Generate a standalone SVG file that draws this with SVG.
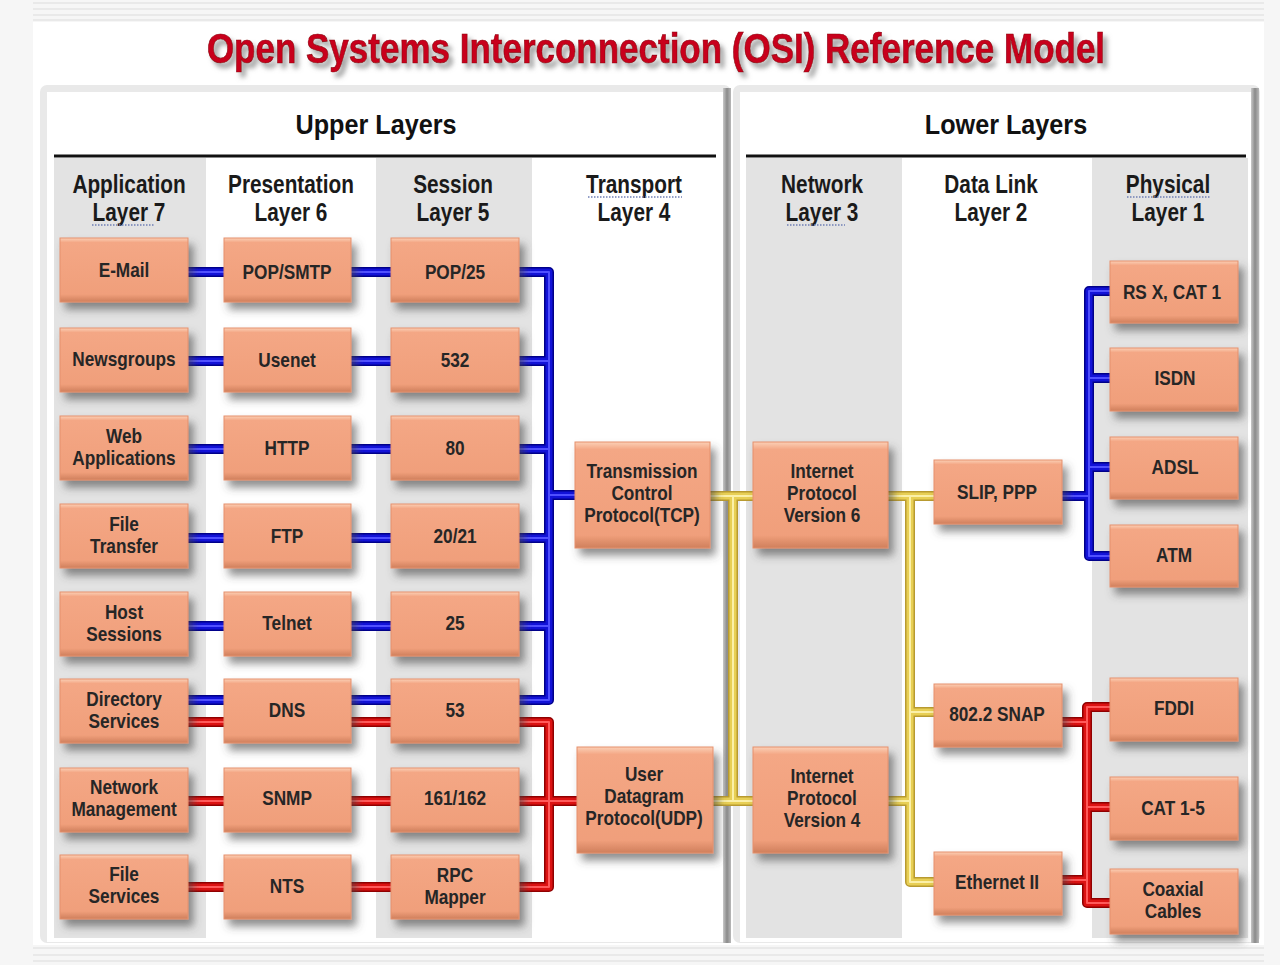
<svg xmlns="http://www.w3.org/2000/svg" width="1280" height="965" viewBox="0 0 1280 965">
<style>
.hdr{font-family:"Liberation Sans",Arial,sans-serif;font-weight:bold;font-size:26px;fill:#1a1a1a;text-anchor:middle;transform-box:fill-box;transform-origin:center;transform:scaleX(0.8)}
.grp{font-family:"Liberation Sans",Arial,sans-serif;font-weight:bold;font-size:28px;fill:#111;text-anchor:middle;transform-box:fill-box;transform-origin:center;transform:scaleX(0.9)}
.bt{font-family:"Liberation Sans",Arial,sans-serif;font-weight:bold;font-size:21px;fill:#262626;text-anchor:middle;transform-box:fill-box;transform-origin:center;transform:scaleX(0.82)}
.ttl{font-family:"Liberation Sans",Arial,sans-serif;font-weight:bold;font-size:43px;fill:#c8001a;text-anchor:middle;stroke:#8a0010;stroke-width:0.7;transform-box:fill-box;transform-origin:center;transform:scaleX(0.814)}
.box{fill:url(#boxg);stroke:#e5906c;stroke-width:1;filter:url(#sh)}
.col{fill:#e3e3e3}
.dot{stroke:#6f7fb5;stroke-width:1.5;stroke-dasharray:1.5 1.5;fill:none}
.faint{stroke:#e4e4e4;stroke-width:1.5}
.c1{fill:none;stroke-width:10;stroke-linejoin:round}
.c2{fill:none;stroke-width:7;stroke-linejoin:round}
.c3{fill:none;stroke-width:2;stroke-linejoin:round}
</style>
<defs>
<linearGradient id="boxg" x1="0" y1="0" x2="0" y2="1">
<stop offset="0" stop-color="#fbd0b6"/>
<stop offset="0.07" stop-color="#f4a785"/>
<stop offset="0.88" stop-color="#f09f7b"/>
<stop offset="1" stop-color="#cf7f5c"/>
</linearGradient>
<linearGradient id="edge" x1="0" y1="0" x2="1" y2="0">
<stop offset="0" stop-color="#c8c8c8"/>
<stop offset="0.5" stop-color="#8a8a8a"/>
<stop offset="1" stop-color="#b8b8b8"/>
</linearGradient>
<filter id="sh" x="-20%" y="-20%" width="150%" height="160%">
<feDropShadow dx="5" dy="7" stdDeviation="4" flood-color="#444" flood-opacity="0.6"/>
</filter>
<filter id="tsh" x="-5%" y="-30%" width="110%" height="170%">
<feDropShadow dx="4" dy="5" stdDeviation="2.5" flood-color="#777" flood-opacity="0.7"/>
</filter>
<path id="blueP" d="M188,272H224M351,272H391M188,361H224M351,361H391M188,449H224M351,449H391M188,538H224M351,538H391M188,626H224M351,626H391M188,700H224M351,700H391M519,272H549V700H519M519,361H549M519,449H549M519,538H549M519,626H549M549,495H575M1062,496H1089M1110,291H1089V556H1110M1089,378H1110M1089,467H1110"/>
<path id="redP" d="M188,722H224M351,722H391M188,801H224M351,801H391M188,887H224M351,887H391M519,722H549V887H519M519,801H577M1062,722H1087M1062,880H1087M1110,707H1087V903H1110M1087,807H1110"/>
<path id="yelP" d="M710,496H754M733,496V801M713,801H754M888,496H934M910,496V882H934M910,712H934M888,801H910"/>
</defs>

<!-- page background -->
<rect x="0" y="0" width="1280" height="965" fill="#f6f6f6"/>
<rect x="33" y="22" width="1231" height="923" fill="#ffffff"/>
<g id="faint-lines">
<line class="faint" x1="33" y1="3" x2="1264" y2="3"/>
<line class="faint" x1="33" y1="9" x2="1264" y2="9"/>
<line class="faint" x1="33" y1="15" x2="1264" y2="15"/>
<line class="faint" x1="33" y1="20" x2="1264" y2="20"/>
<line class="faint" x1="33" y1="948" x2="1264" y2="948"/>
<line class="faint" x1="33" y1="955" x2="1264" y2="955"/>
<line class="faint" x1="33" y1="961" x2="1264" y2="961"/>
</g>

<!-- title -->
<g filter="url(#tsh)"><text id="title" class="ttl" x="656" y="63">Open Systems Interconnection (OSI) Reference Model</text></g>

<!-- panels -->
<g id="upper-panel">
<rect x="40" y="85" width="691" height="858" rx="7" fill="#e9e9e9"/>
<rect x="47" y="92" width="676" height="850" fill="#ffffff"/>
<rect x="723" y="88" width="8" height="855" fill="url(#edge)"/>
<text class="grp" x="376" y="134">Upper Layers</text>
<line x1="54" y1="156" x2="716" y2="156" stroke="#111" stroke-width="3"/>
<rect class="col" x="54" y="158" width="152" height="780"/>
<rect class="col" x="376" y="158" width="156" height="780"/>
</g>
<g id="lower-panel">
<rect x="733" y="85" width="527" height="858" rx="7" fill="#e9e9e9"/>
<rect x="740" y="92" width="511" height="850" fill="#ffffff"/>
<rect x="1251" y="88" width="8" height="855" fill="url(#edge)"/>
<text class="grp" x="1006" y="134">Lower Layers</text>
<line x1="746" y1="156" x2="1246" y2="156" stroke="#111" stroke-width="3"/>
<rect class="col" x="746" y="158" width="156" height="780"/>
<rect class="col" x="1092" y="158" width="156" height="780"/>
</g>

<!-- column headers -->
<g id="headers">
<text class="hdr" x="129" y="193">Application</text><text class="hdr" x="129" y="221">Layer 7</text>
<text class="hdr" x="291" y="193">Presentation</text><text class="hdr" x="291" y="221">Layer 6</text>
<text class="hdr" x="453" y="193">Session</text><text class="hdr" x="453" y="221">Layer 5</text>
<text class="hdr" x="634" y="193">Transport</text><text class="hdr" x="634" y="221">Layer 4</text>
<text class="hdr" x="822" y="193">Network</text><text class="hdr" x="822" y="221">Layer 3</text>
<text class="hdr" x="991" y="193">Data Link</text><text class="hdr" x="991" y="221">Layer 2</text>
<text class="hdr" x="1168" y="193">Physical</text><text class="hdr" x="1168" y="221">Layer 1</text>
<line class="dot" x1="92" y1="225" x2="155" y2="225"/>
<line class="dot" x1="588" y1="197" x2="682" y2="197"/>
<line class="dot" x1="787" y1="225" x2="845" y2="225"/>
<line class="dot" x1="1127" y1="197" x2="1210" y2="197"/>
</g>

<!-- connectors -->
<g id="connectors">
<use href="#blueP" class="c1" stroke="#00008a"/>
<use href="#blueP" class="c2" stroke="#1212d8"/>
<use href="#blueP" class="c3" stroke="#5050ff"/>
<use href="#redP" class="c1" stroke="#900000"/>
<use href="#redP" class="c2" stroke="#dc1212"/>
<use href="#redP" class="c3" stroke="#ff5a5a"/>
<use href="#yelP" class="c1" stroke="#b89a30"/>
<use href="#yelP" class="c2" stroke="#e8cf55"/>
<use href="#yelP" class="c3" stroke="#fbf0a8"/>
</g>

<!-- Application layer -->
<g id="email"><rect class="box" x="60" y="238" width="128" height="64"/><text class="bt" x="124" y="277">E-Mail</text></g>
<g id="newsgroups"><rect class="box" x="60" y="328" width="128" height="64"/><text class="bt" x="124" y="366">Newsgroups</text></g>
<g id="webapps"><rect class="box" x="60" y="416" width="128" height="64"/><text class="bt" x="124" y="443">Web</text><text class="bt" x="124" y="465">Applications</text></g>
<g id="filetransfer"><rect class="box" x="60" y="504" width="128" height="64"/><text class="bt" x="124" y="531">File</text><text class="bt" x="124" y="553">Transfer</text></g>
<g id="hostsessions"><rect class="box" x="60" y="592" width="128" height="64"/><text class="bt" x="124" y="619">Host</text><text class="bt" x="124" y="641">Sessions</text></g>
<g id="directory"><rect class="box" x="60" y="679" width="128" height="64"/><text class="bt" x="124" y="706">Directory</text><text class="bt" x="124" y="728">Services</text></g>
<g id="netmgmt"><rect class="box" x="60" y="768" width="128" height="64"/><text class="bt" x="124" y="794">Network</text><text class="bt" x="124" y="816">Management</text></g>
<g id="fileservices"><rect class="box" x="60" y="855" width="128" height="64"/><text class="bt" x="124" y="881">File</text><text class="bt" x="124" y="903">Services</text></g>

<!-- Presentation layer -->
<g id="popsmtp"><rect class="box" x="224" y="238" width="127" height="64"/><text class="bt" x="287" y="279">POP/SMTP</text></g>
<g id="usenet"><rect class="box" x="224" y="328" width="127" height="64"/><text class="bt" x="287" y="367">Usenet</text></g>
<g id="http"><rect class="box" x="224" y="416" width="127" height="64"/><text class="bt" x="287" y="455">HTTP</text></g>
<g id="ftp"><rect class="box" x="224" y="504" width="127" height="64"/><text class="bt" x="287" y="543">FTP</text></g>
<g id="telnet"><rect class="box" x="224" y="592" width="127" height="64"/><text class="bt" x="287" y="630">Telnet</text></g>
<g id="dns"><rect class="box" x="224" y="679" width="127" height="64"/><text class="bt" x="287" y="717">DNS</text></g>
<g id="snmp"><rect class="box" x="224" y="768" width="127" height="64"/><text class="bt" x="287" y="805">SNMP</text></g>
<g id="nts"><rect class="box" x="224" y="855" width="127" height="64"/><text class="bt" x="287" y="893">NTS</text></g>

<!-- Session layer -->
<g id="pop25"><rect class="box" x="391" y="238" width="128" height="64"/><text class="bt" x="455" y="279">POP/25</text></g>
<g id="p532"><rect class="box" x="391" y="328" width="128" height="64"/><text class="bt" x="455" y="367">532</text></g>
<g id="p80"><rect class="box" x="391" y="416" width="128" height="64"/><text class="bt" x="455" y="455">80</text></g>
<g id="p2021"><rect class="box" x="391" y="504" width="128" height="64"/><text class="bt" x="455" y="543">20/21</text></g>
<g id="p25"><rect class="box" x="391" y="592" width="128" height="64"/><text class="bt" x="455" y="630">25</text></g>
<g id="p53"><rect class="box" x="391" y="679" width="128" height="64"/><text class="bt" x="455" y="717">53</text></g>
<g id="p161"><rect class="box" x="391" y="768" width="128" height="64"/><text class="bt" x="455" y="805">161/162</text></g>
<g id="rpc"><rect class="box" x="391" y="855" width="128" height="64"/><text class="bt" x="455" y="882">RPC</text><text class="bt" x="455" y="904">Mapper</text></g>

<!-- Transport layer -->
<g id="tcp"><rect class="box" x="575" y="442" width="135" height="106"/><text class="bt" x="642" y="478">Transmission</text><text class="bt" x="642" y="500">Control</text><text class="bt" x="642" y="522">Protocol(TCP)</text></g>
<g id="udp"><rect class="box" x="577" y="747" width="136" height="106"/><text class="bt" x="644" y="781">User</text><text class="bt" x="644" y="803">Datagram</text><text class="bt" x="644" y="825">Protocol(UDP)</text></g>

<!-- Network layer -->
<g id="ipv6"><rect class="box" x="753" y="442" width="135" height="106"/><text class="bt" x="822" y="478">Internet</text><text class="bt" x="822" y="500">Protocol</text><text class="bt" x="822" y="522">Version 6</text></g>
<g id="ipv4"><rect class="box" x="753" y="747" width="135" height="106"/><text class="bt" x="822" y="783">Internet</text><text class="bt" x="822" y="805">Protocol</text><text class="bt" x="822" y="827">Version 4</text></g>

<!-- Data link layer -->
<g id="slip"><rect class="box" x="934" y="460" width="128" height="64"/><text class="bt" x="997" y="499">SLIP, PPP</text></g>
<g id="snap"><rect class="box" x="934" y="684" width="128" height="63"/><text class="bt" x="997" y="721">802.2 SNAP</text></g>
<g id="ethernet"><rect class="box" x="934" y="852" width="128" height="63"/><text class="bt" x="997" y="889">Ethernet II</text></g>

<!-- Physical layer -->
<g id="rsx"><rect class="box" x="1110" y="261" width="128" height="62"/><text class="bt" x="1172" y="299">RS X, CAT 1</text></g>
<g id="isdn"><rect class="box" x="1110" y="348" width="128" height="63"/><text class="bt" x="1175" y="385">ISDN</text></g>
<g id="adsl"><rect class="box" x="1110" y="437" width="128" height="62"/><text class="bt" x="1175" y="474">ADSL</text></g>
<g id="atm"><rect class="box" x="1110" y="525" width="128" height="62"/><text class="bt" x="1174" y="562">ATM</text></g>
<g id="fddi"><rect class="box" x="1110" y="678" width="128" height="63"/><text class="bt" x="1174" y="715">FDDI</text></g>
<g id="cat15"><rect class="box" x="1110" y="777" width="128" height="63"/><text class="bt" x="1173" y="815">CAT 1-5</text></g>
<g id="coax"><rect class="box" x="1110" y="869" width="128" height="65"/><text class="bt" x="1173" y="896">Coaxial</text><text class="bt" x="1173" y="918">Cables</text></g>
</svg>
